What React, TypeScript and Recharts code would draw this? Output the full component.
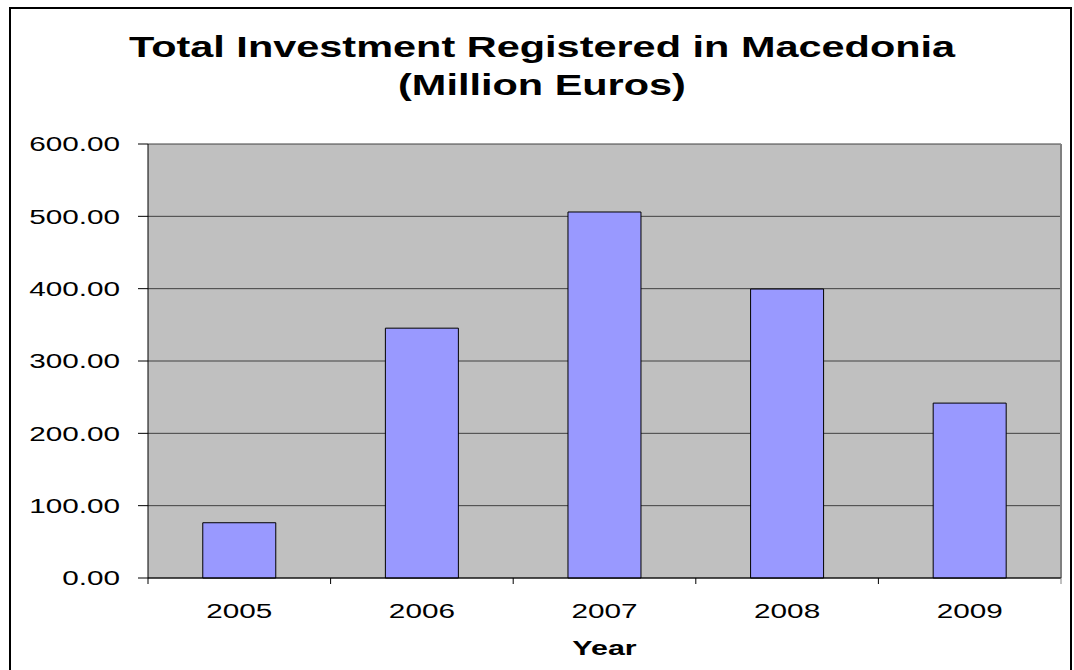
import { BarChart, Bar, XAxis, YAxis, CartesianGrid } from "recharts";

const years = ["2005", "2006", "2007", "2008", "2009"];
const investment = [76.4, 345.4, 506.0, 399.5, 241.8];
const yTicks = [0, 100, 200, 300, 400, 500, 600];

const titleLines = ["Total Investment Registered in Macedonia", "(Million Euros)"];
const xAxisTitle = "Year";

const FONT = "'Liberation Sans', Arial, Helvetica, sans-serif";
// the original picture is stretched sideways, so every text gets the same stretch
const STRETCH = 1.45;

const W = 1074;
const H = 670;
const margin = { top: 144, right: 13, left: 88, bottom: 62 };

const data = years.map((year, i) => ({ year, value: investment[i] }));

function YTick({ x, y, payload }: any) {
  return (
    <text
      transform={`translate(${x},${y}) scale(${STRETCH},1)`}
      textAnchor="end"
      dy="0.355em"
      fontFamily={FONT}
      fontSize={20.5}
      fill="#000"
    >
      {Number(payload.value).toFixed(2)}
    </text>
  );
}

const X_TICK = 6;
const X_MARGIN = 19;

function XTick({ x, y, payload, index, width }: any) {
  const plotW = typeof width === "number" ? width : W - margin.left - margin.right - 60;
  const band = plotW / years.length;
  const axisY = y - X_TICK - X_MARGIN;
  const left = x - band / 2;
  return (
    <g>
      <line x1={left} x2={left} y1={axisY} y2={axisY + X_TICK} stroke="#000" />
      {index === years.length - 1 && (
        <line x1={x + band / 2} x2={x + band / 2} y1={axisY} y2={axisY + X_TICK} stroke="#808080" />
      )}
      <text
        transform={`translate(${x},${y}) scale(${STRETCH},1)`}
        textAnchor="middle"
        dy="0.72em"
        fontFamily={FONT}
        fontSize={20.5}
        fill="#000"
      >
        {payload.value}
      </text>
    </g>
  );
}

function AxisTitle({ viewBox }: any) {
  const cx = viewBox.x + viewBox.width / 2;
  return (
    <text
      transform={`translate(${cx},${viewBox.y + 77}) scale(${STRETCH},1)`}
      textAnchor="middle"
      fontFamily={FONT}
      fontSize={21}
      fontWeight="bold"
      fill="#000"
    >
      {xAxisTitle}
    </text>
  );
}

export default function App() {
  return (
    <div
      style={{
        position: "absolute",
        left: 0,
        top: 0,
        width: W,
        height: H,
        overflow: "hidden",
        background: "#fff",
      }}
    >
      <div
        style={{
          position: "absolute",
          left: 9,
          top: 7,
          width: 1063,
          height: 720,
          boxSizing: "border-box",
          border: "2px solid #000",
        }}
      />
      <svg
        width={W}
        height={120}
        style={{ position: "absolute", left: 0, top: 0 }}
      >
        {titleLines.map((line, i) => (
          <text
            key={line}
            transform={`translate(542,${56.5 + i * 38.5}) scale(${STRETCH},1)`}
            textAnchor="middle"
            fontFamily={FONT}
            fontSize={28.6}
            fontWeight="bold"
            fill="#000"
          >
            {line}
          </text>
        ))}
      </svg>
      <div style={{ position: "absolute", left: 0, top: 0 }}>
        <BarChart width={W} height={H} data={data} margin={margin} barCategoryGap="30%">
          <CartesianGrid
            vertical={false}
            stroke="#404040"
            fill="#c0c0c0"
            fillOpacity={1}
          />
          <CartesianGrid
            horizontal={false}
            stroke="#808080"
            strokeWidth={2}
            verticalCoordinatesGenerator={({ offset }: any) => [offset.left + offset.width]}
          />
          <XAxis
            dataKey="year"
            height={30}
            axisLine={{ stroke: "#000" }}
            tickLine={false}
            tickSize={X_TICK}
            tickMargin={X_MARGIN}
            tick={<XTick />}
            interval={0}
            label={{ content: <AxisTitle /> }}
          />
          <YAxis
            width={60}
            domain={[0, 600]}
            ticks={yTicks}
            interval={0}
            axisLine={{ stroke: "#000" }}
            tickLine={{ stroke: "#000" }}
            tickSize={10}
            tickMargin={18}
            tick={<YTick />}
          />
          <Bar
            dataKey="value"
            fill="#9999ff"
            stroke="#000"
            strokeWidth={1}
            isAnimationActive={false}
          />
        </BarChart>
      </div>
    </div>
  );
}
